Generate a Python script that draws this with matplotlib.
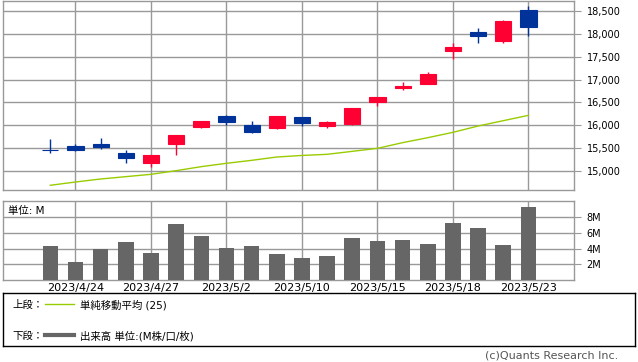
import numpy as np
import matplotlib
matplotlib.use("Agg")
import matplotlib.pyplot as plt
from matplotlib.ticker import FuncFormatter

plt.rcParams['font.family'] = ['DejaVu Sans', 'Noto Sans CJK JP']

# データ
dates = ["2023/4/21", "2023/4/24", "2023/4/25", "2023/4/26", "2023/4/27",
         "2023/4/28", "2023/5/1", "2023/5/2", "2023/5/8", "2023/5/9",
         "2023/5/10", "2023/5/11", "2023/5/12", "2023/5/15", "2023/5/16",
         "2023/5/17", "2023/5/18", "2023/5/19", "2023/5/22", "2023/5/23"]
open_ = [15455, 15547, 15591, 15394, 15175, 15591, 15963, 16203, 16006, 15941,
         16181, 15984, 16028, 16509, 16823, 16903, 17625, 18041, 17844, 18522]
high = [15700, 15591, 15722, 15459, 15350, 15788, 16094, 16225, 16094, 16203,
        16181, 16094, 16378, 16619, 16947, 17166, 17800, 18128, 18303, 18610]
low = [15401, 15437, 15481, 15175, 15095, 15350, 15941, 16006, 15831, 15919,
       15984, 15941, 16006, 16422, 16772, 16903, 17450, 17800, 17800, 17960]
close = [15450, 15459, 15525, 15284, 15350, 15788, 16094, 16072, 15853, 16203,
         16050, 16072, 16378, 16619, 16867, 17122, 17712, 17960, 18281, 18157]
sma25 = [14687, 14759, 14825, 14876, 14927, 15007, 15095, 15168, 15233, 15306,
         15340, 15365, 15430, 15496, 15620, 15729, 15846, 15984, 16101, 16218]
volume = [4.37, 2.34, 3.99, 4.87, 3.48, 7.15, 5.63, 4.11, 4.37, 3.35,
          2.85, 3.10, 5.38, 5.00, 5.13, 4.62, 7.28, 6.65, 4.49, 9.30]

RED = '#ff0033'
BLUE = '#003399'
GREEN = '#99cc00'
GRID = '#999999'

x = np.arange(len(dates))
o = np.array(open_)
c = np.array(close)
colors = [RED if cc > oo else BLUE for oo, cc in zip(o, c)]
tick_idx = list(range(1, len(dates), 3))

fig = plt.figure(figsize=(6.38, 3.62), dpi=100)
W, H = 638, 362

def box(l, t, r, b):
    return [l / W, 1 - b / H, (r - l) / W, (b - t) / H]

# 上段: ローソク足
ax = fig.add_axes(box(3, 1, 574, 190))
ax.vlines(x, low, high, colors=colors, linewidth=1.0, zorder=3)
ax.bar(x, np.abs(c - o), bottom=np.minimum(o, c), width=0.64,
       color=colors, edgecolor=colors, linewidth=0.8, zorder=4)
ax.plot(x, sma25, color=GREEN, linewidth=1.0, zorder=2)
ax.set_xlim(-1.88, 20.81)
ax.set_ylim(14584, 18720)
ax.set_yticks(range(15000, 19000, 500))
ax.yaxis.set_major_formatter(FuncFormatter(lambda v, p: f"{int(v):,}"))
ax.yaxis.tick_right()
ax.set_xticks(tick_idx)
ax.set_xticklabels([])
ax.tick_params(axis='x', length=0)
ax.tick_params(axis='y', length=5, color=GRID, labelsize=7, pad=4)
ax.grid(True, color=GRID, linewidth=1.0, zorder=0)
for s in ax.spines.values():
    s.set_color(GRID)
    s.set_linewidth(1.0)

# 下段: 出来高
axv = fig.add_axes(box(3, 201, 574, 280))
axv.bar(x, volume, width=0.62, color='#666666', zorder=3)
axv.set_xlim(-1.88, 20.81)
axv.set_ylim(0, 10.06)
axv.set_yticks([2, 4, 6, 8])
axv.set_yticklabels(['2M', '4M', '6M', '8M'])
axv.yaxis.tick_right()
axv.set_xticks(tick_idx)
axv.set_xticklabels([dates[i] for i in tick_idx])
axv.tick_params(axis='x', length=0, labelsize=8, pad=2)
axv.tick_params(axis='y', length=5, color=GRID, labelsize=7, pad=4)
axv.grid(True, color=GRID, linewidth=1.0, zorder=0)
for s in axv.spines.values():
    s.set_color(GRID)
    s.set_linewidth(1.0)
axv.text(0.008, 0.88, '単位: M', transform=axv.transAxes, fontsize=7.5,
         ha='left', va='center')

# 凡例
axl = fig.add_axes(box(3, 293, 635, 346))
axl.set_xlim(0, W)
axl.set_ylim(346, 293)
axl.set_xticks([])
axl.set_yticks([])
for s in axl.spines.values():
    s.set_color('black')
    s.set_linewidth(1.0)
axl.text(10, 305, '上段：', fontsize=7.5, va='center')
axl.plot([42, 72], [304, 304], color=GREEN, linewidth=1.0)
axl.text(78, 305, '単純移動平均 (25)', fontsize=7.5, va='center')
axl.text(10, 336, '下段：', fontsize=7.5, va='center')
axl.plot([42, 72], [335, 335], color='#666666', linewidth=3.0)
axl.text(78, 336, '出来高 単位:(M株/口/枚)', fontsize=7.5, va='center')

fig.text(618 / W, 1 - 356 / H, '(c)Quants Research Inc.', fontsize=8,
         color='#555555', ha='right', va='center')

fig.savefig('out.png', dpi=100)
